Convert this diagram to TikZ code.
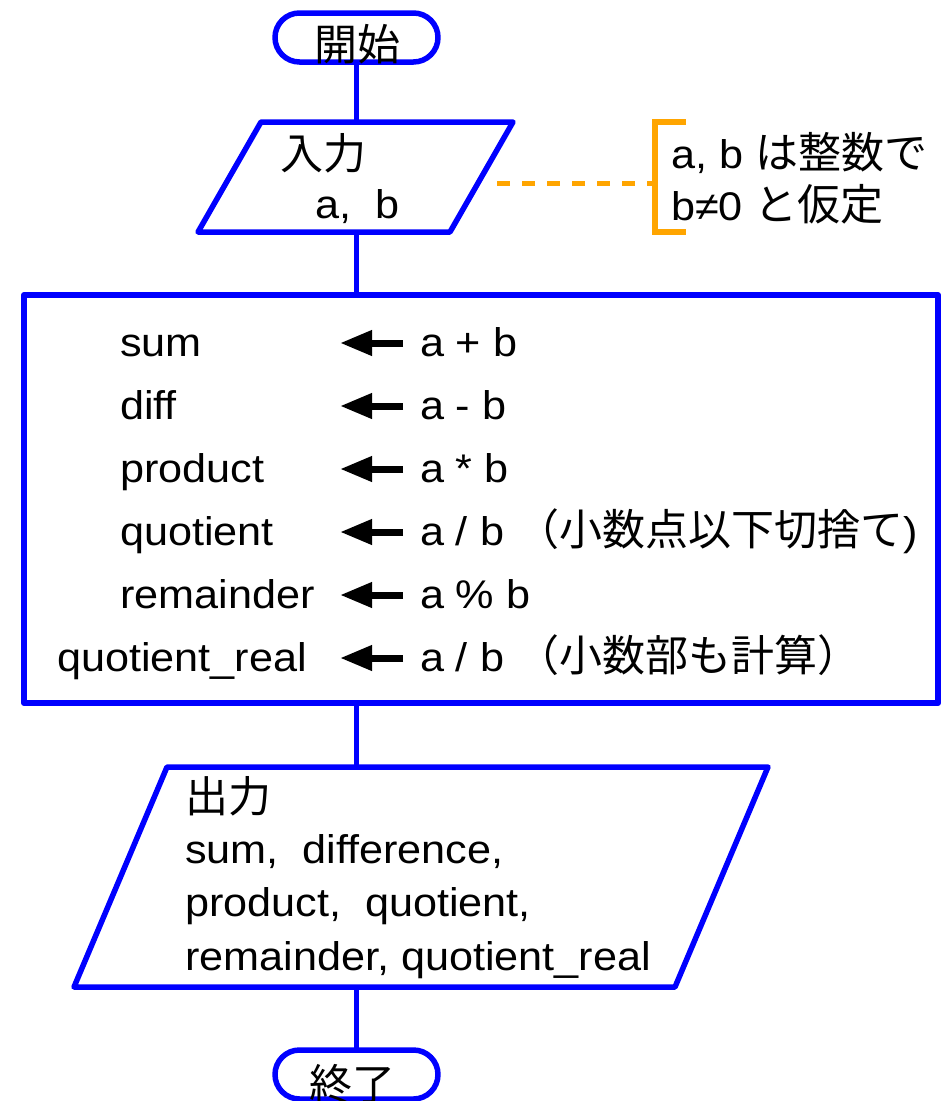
\documentclass[tikz,border=0pt]{standalone}
\usepackage{fontspec}
\setmainfont{Liberation Sans}[FakeStretch=1.08]
\newfontfamily\jp{Noto Sans CJK JP}[Scale=1.075]
\usetikzlibrary{arrows.meta}
\definecolor{fblue}{RGB}{0,0,255}
\definecolor{forange}{RGB}{255,165,0}
\tikzset{
  flow/.style={draw=fblue, line width=5.5pt, line join=round},
  shapebox/.style={rectangle, inner sep=0pt, outer sep=0pt},
  terminal/.style={shapebox, flow, rounded corners=24.5pt, minimum width=163pt, minimum height=49pt},
  txt/.style={inner sep=0pt, outer sep=0pt, font=\fontsize{40}{48}\selectfont, anchor=base west},
  assign/.style={line width=7pt, -{Triangle[length=32pt,width=24pt]}},
  notestyle/.style={draw=forange, line width=5.5pt},
}
\begin{document}
\begin{tikzpicture}[x=1pt,y=-1pt]
\useasboundingbox (0,0) rectangle (943,1101);
\fill[white] (0,0) rectangle (943,1101);

% start terminal
\node[terminal] (start) at (356.5,37.5) {};
\node[txt, anchor=base] (starttxt) at (357,60) {\jp 開始};

% input
\node[shapebox, minimum width=315pt, minimum height=110pt] (in) at (355.5,177) {};
\draw[flow] ([xshift=63pt]in.north west) -- (in.north east) -- ([xshift=-63pt]in.south east) -- (in.south west) -- cycle;
\node[txt] (intxt1) at (280,169) {\jp 入力};
\node[txt] (intxt2) at (315,218) {a,\ \ b};

% note
\node[shapebox, anchor=west, minimum width=31pt, minimum height=110pt] (brk) at (655,177) {};
\draw[notestyle] (brk.north east) -- (brk.north west) -- (brk.south west) -- (brk.south east);
\coordinate (dstart) at (497,183);
\draw[notestyle, line width=5pt, dash pattern=on 13pt off 12pt] (dstart) -- (dstart -| brk.west);
\node[txt] (note1) at (671,168) {a, b {\jp は整数で}};
\node[txt] (note2) at (671,220) {b≠0 {\jp と仮定}};

% process
\node[shapebox, flow, line width=6pt, minimum width=914pt, minimum height=408pt] (proc) at (481,499) {};
\node[txt] (l1) at (120,356) {sum};
\node[txt] (e1) at (420,356) {a + b};
\node[txt] (l2) at (120,419) {diff};
\node[txt] (e2) at (420,419) {a - b};
\node[txt] (l3) at (120,482) {product};
\node[txt] (e3) at (420,482) {a * b};
\node[txt] (l4) at (120,545) {quotient};
\node[txt] (e4) at (420,545) {a / b {\jp （小数点以下切捨て}{)}};
\node[txt] (l5) at (120,608) {remainder};
\node[txt] (e5) at (420,608) {a \% b};
\node[txt] (l6) at (57,671) {quotient\_real};
\node[txt] (e6) at (420,671) {a / b {\jp （小数部も計算）}};
\foreach \i in {1,...,6}{
  \draw[assign] ([xshift=-17pt,yshift=13pt]e\i.base west) -- ([xshift=-80pt,yshift=13pt]e\i.base west);
}

% output
\node[shapebox, minimum width=694pt, minimum height=220pt] (out) at (421,877) {};
\draw[flow] ([xshift=93pt]out.north west) -- (out.north east) -- ([xshift=-93pt]out.south east) -- (out.south west) -- cycle;
\node[txt] (out1) at (185,812) {\jp 出力};
\node[txt] (out2) at (185,863) {sum,\ \ difference,};
\node[txt] (out3) at (185,916) {product,\ \ quotient,};
\node[txt] (out4) at (185,970) {remainder, quotient\_real};

% end terminal
\node[terminal] (end) at (356.5,1074.5) {};
\node[txt, anchor=base] (endtxt) at (352,1100) {\jp 終了};

% connectors
\draw[flow, line width=5pt] (start.south) -- (start.south |- in.north);
\draw[flow, line width=5pt] (start.south |- in.south) -- (start.south |- proc.north);
\draw[flow, line width=5pt] (start.south |- proc.south) -- (start.south |- out.north);
\draw[flow, line width=5pt] (start.south |- out.south) -- (end.north);
\end{tikzpicture}
\end{document}
